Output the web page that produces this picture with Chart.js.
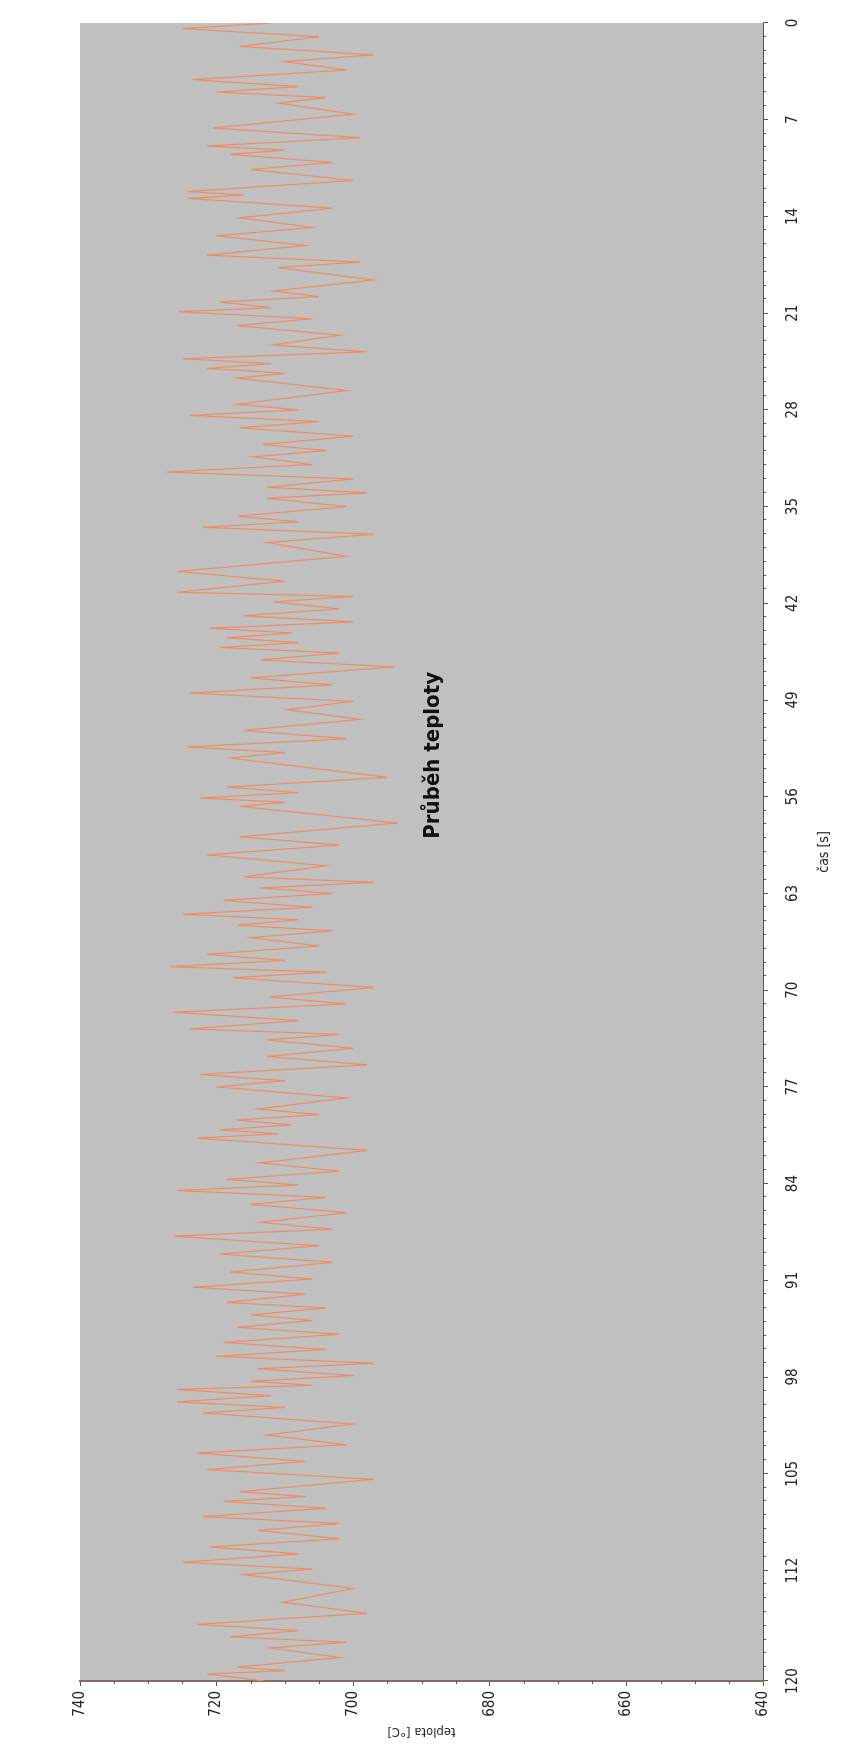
<!DOCTYPE html>
<html>
<head>
<meta charset="utf-8">
<script src="https://cdn.jsdelivr.net/npm/chart.js@4.4.1/dist/chart.umd.min.js"></script>
<style>
  html, body { margin: 0; padding: 0; background: #ffffff; width: 845px; height: 1744px; overflow: hidden; }
  /* the chart is laid out landscape and turned a quarter turn onto the portrait page */
  #frame { position: absolute; left: 0; top: 0; width: 1744px; height: 845px;
           transform-origin: 0 0; transform: translate(0, 1744px) rotate(-90deg); }
  #chart { display: block; }
</style>
</head>
<body>
<div id="frame"><canvas id="chart" width="1744" height="845"></canvas></div>
<script>
// turning points of the measured temperature trace: time [s] and temperature [°C]
const timeS = [
  0.0, 0.4, 1.0, 1.7, 2.3, 2.8, 3.4, 4.1, 4.6, 5.0, 5.4, 5.8, 6.6, 7.6, 8.3, 8.9, 9.2, 9.5, 10.1, 10.6,
  11.4, 12.2, 12.45, 12.7, 13.4, 14.1, 14.8, 15.4, 16.1, 16.8, 17.3, 17.7, 18.6, 19.4, 19.8, 20.2, 20.6, 20.9, 21.4, 21.9,
  22.6, 23.3, 23.8, 24.3, 24.65, 25.0, 25.35, 25.7, 26.6, 27.6, 28.0, 28.4, 28.85, 29.3, 29.9, 30.5, 30.95, 31.4, 31.95, 32.5,
  33.0, 33.6, 34.0, 34.4, 35.0, 35.7, 36.1, 36.5, 37.0, 37.6, 38.6, 39.7, 40.4, 41.2, 41.5, 41.9, 42.4, 42.9, 43.35, 43.8,
  44.15, 44.5, 44.85, 45.2, 45.6, 46.1, 46.6, 47.4, 47.9, 48.5, 49.1, 49.7, 50.4, 51.2, 51.8, 52.4, 52.8, 53.2, 54.6, 55.3,
  55.7, 56.1, 56.4, 56.7, 57.9, 58.9, 59.5, 60.2, 61.0, 61.8, 62.2, 62.6, 63.0, 63.5, 64.0, 64.5, 64.9, 65.3, 65.7, 66.2,
  66.8, 67.4, 67.85, 68.3, 68.7, 69.1, 69.8, 70.5, 71.0, 71.6, 72.2, 72.8, 73.2, 73.6, 74.2, 74.8, 75.4, 76.1, 76.55, 77.0,
  77.8, 78.6, 79.0, 79.4, 79.75, 80.1, 80.4, 80.7, 81.6, 82.5, 83.1, 83.7, 84.1, 84.5, 85.0, 85.5, 86.1, 86.8, 87.3, 87.8,
  88.5, 89.1, 89.7, 90.4, 90.9, 91.5, 92.0, 92.6, 93.0, 93.5, 93.9, 94.4, 94.9, 95.5, 96.0, 96.5, 97.0, 97.4, 97.9, 98.3,
  98.6, 98.9, 99.35, 99.8, 100.2, 100.6, 101.4, 102.2, 102.9, 103.5, 104.1, 104.7, 105.4, 106.3, 106.65, 107.0, 107.5, 108.1, 108.6, 109.1,
  109.7, 110.3, 110.8, 111.4, 111.9, 112.3, 113.3, 114.3, 115.1, 115.9, 116.35, 116.8, 117.2, 117.6, 118.3, 119.0, 119.25, 119.5, 120.0
];
const temperatureC = [
  712, 725, 705, 716.6, 697, 710, 701, 723.6, 708, 720, 704, 711, 700, 720.5, 699, 721.4, 710, 718, 703, 715,
  700, 724.3, 716, 724.2, 703, 716.6, 706, 720, 707, 721.4, 699, 711, 697, 711.7, 705, 719.5, 712, 725.6, 706, 717,
  702, 711.7, 698, 724.9, 712, 721.4, 710, 717, 701, 717, 708, 723.9, 705, 716.6, 700, 713.2, 704, 714.7, 706, 727.3,
  700, 712.6, 698, 712.6, 701, 717, 708, 722, 697, 712.6, 701, 725.8, 710, 725.8, 700, 711.7, 702, 716.1, 700, 721,
  709, 718.5, 708, 719.5, 702, 713.6, 694, 715, 703, 723.9, 700, 709.7, 699, 716, 701, 724.3, 710, 718, 695, 718.5,
  708, 722.4, 710, 716.6, 693.5, 716.6, 702, 721.4, 704, 716, 697, 713.6, 703, 719, 706, 724.9, 708, 717, 703, 715,
  705, 721.4, 710, 726.8, 704, 717.6, 697, 712.2, 701, 726.4, 708, 723.9, 702, 712.6, 700, 712.6, 698, 722.4, 710, 720,
  701, 714, 705, 717, 709, 719.5, 711, 722.9, 698, 713.6, 702, 718.5, 708, 725.8, 704, 715, 701, 713.6, 703, 726.4,
  705, 719.5, 703, 718, 706, 723.4, 707, 718.5, 704, 715, 706, 717, 702, 719, 704, 720, 697, 714, 700, 715,
  706, 725.8, 712, 725.8, 710, 722, 700, 712.6, 701, 722.9, 707, 721.4, 697, 716.6, 707, 719, 704, 722, 702, 714,
  702, 721, 708, 724.9, 706, 716, 700, 710.3, 698, 722.9, 708, 718, 701, 712.2, 702, 717, 710, 721.4, 713
];
const timeTicks = [0, 7, 14, 21, 28, 35, 42, 49, 56, 63, 70, 77, 84, 91, 98, 105, 112, 120];
const tempTicks = [640, 660, 680, 700, 720, 740];
const chartTitle = 'Průběh teploty';
const timeTitle = 'čas [s]';
const tempTitle = 'teplota [°C]';

const FONT = "'Liberation Sans Narrow', 'Arial Narrow', 'DejaVu Sans Condensed', sans-serif";
const points = timeS.map((t, i) => ({ x: t, y: temperatureC[i] }));

const plotBackground = {
  id: 'plotBackground',
  beforeDraw(chart) {
    const { ctx, chartArea: a } = chart;
    ctx.save();
    ctx.fillStyle = '#c0c0c0';
    ctx.fillRect(a.left, a.top, a.right - a.left, a.bottom - a.top);
    ctx.restore();
  }
};

// small intermediate tick marks on both axes
const minorTicks = {
  id: 'minorTicks',
  afterDraw(chart) {
    const { ctx, chartArea: a, scales: { x, y } } = chart;
    ctx.save();
    ctx.strokeStyle = '#555555';
    ctx.lineWidth = 1;
    ctx.beginPath();
    for (let s = 1; s < 120; s++) {
      if (timeTicks.includes(s)) continue;
      const px = Math.round(x.getPixelForValue(s)) + 0.5;
      ctx.moveTo(px, a.bottom);
      ctx.lineTo(px, a.bottom + 3);
    }
    for (let t = 645; t < 740; t += 5) {
      if (tempTicks.includes(t)) continue;
      const py = Math.round(y.getPixelForValue(t)) + 0.5;
      ctx.moveTo(a.left, py);
      ctx.lineTo(a.left - 3, py);
    }
    ctx.stroke();
    ctx.restore();
  }
};

const titleInPlot = {
  id: 'titleInPlot',
  afterDraw(chart) {
    const { ctx, scales: { x } } = chart;
    ctx.save();
    ctx.fillStyle = '#111111';
    ctx.font = "bold 22px " + FONT;
    ctx.textAlign = 'center';
    ctx.textBaseline = 'middle';
    ctx.fillText(chartTitle, x.getPixelForValue(53), 433);
    ctx.restore();
  }
};

new Chart(document.getElementById('chart'), {
  type: 'line',
  data: {
    datasets: [{
      data: points,
      borderColor: '#f08c64',
      borderWidth: 1.2,
      pointRadius: 0,
      tension: 0,
      fill: false
    }]
  },
  options: {
    responsive: false,
    animation: false,
    devicePixelRatio: 1,
    layout: { padding: { top: 80, right: 23, left: 0, bottom: 0 } },
    plugins: { legend: { display: false }, tooltip: { enabled: false }, title: { display: false } },
    scales: {
      x: {
        type: 'linear', min: 0, max: 120, reverse: true,
        afterBuildTicks: s => { s.ticks = timeTicks.map(v => ({ value: v })); },
        afterFit: s => { s.height = 82; },
        grid: { drawOnChartArea: false, drawTicks: true, tickLength: 5, color: '#555555' },
        border: { display: true, color: '#555555', width: 1 },
        ticks: { autoSkip: false, maxRotation: 0, minRotation: 0, padding: 16, color: '#222222',
                 font: { family: FONT, size: 15 } },
        title: { display: true, text: timeTitle, color: '#222222', font: { family: FONT, size: 14 },
                 padding: { top: 0, bottom: 12 } }
      },
      y: {
        min: 640, max: 740,
        afterBuildTicks: s => { s.ticks = tempTicks.map(v => ({ value: v })); },
        afterFit: s => { s.width = 63; },
        grid: { drawOnChartArea: false, drawTicks: true, tickLength: 5, color: '#555555' },
        border: { display: true, color: '#8a6a62', width: 2 },
        ticks: { padding: 5, color: '#222222', font: { family: FONT, size: 15 } },
        title: { display: true, text: tempTitle, color: '#222222', font: { family: FONT, size: 13 },
                 padding: { top: 5, bottom: 0 } }
      }
    }
  },
  plugins: [plotBackground, minorTicks, titleInPlot]
});
</script>
</body>
</html>
